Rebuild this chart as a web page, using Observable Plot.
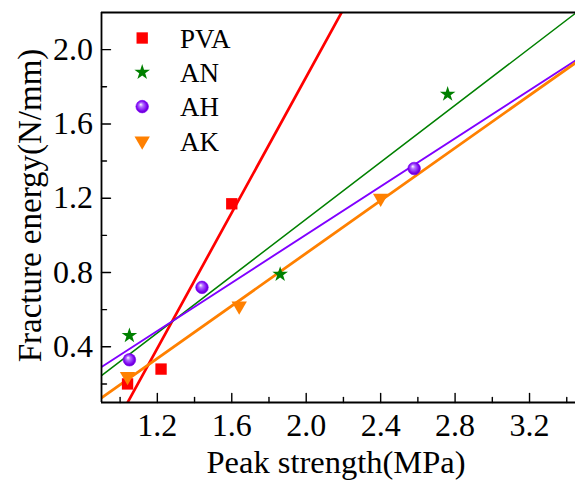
<!DOCTYPE html>
<html>
<head>
<meta charset="utf-8">
<script src="https://cdn.jsdelivr.net/npm/d3@7"></script>
<script src="https://cdn.jsdelivr.net/npm/@observablehq/plot@0.6"></script>
<style>
  html, body { margin: 0; padding: 0; background: #fff; }
</style>
</head>
<body>
<div id="chart"></div>
<script>
// Measured specimens: peak strength (MPa) vs fracture energy (N/mm)
const seriesNames = ["PVA", "AN", "AH", "AK"];

const pvaStrength = [1.04, 1.22, 1.60];
const pvaEnergy   = [0.20, 0.28, 1.17];

const anStrength  = [1.05, 1.86, 2.76];
const anEnergy    = [0.46, 0.79, 1.76];

const ahStrength  = [1.05, 1.44, 2.58];
const ahEnergy    = [0.33, 0.72, 1.36];

const akStrength  = [1.04, 1.64, 2.40];
const akEnergy    = [0.24, 0.62, 1.20];

// Axis ranges and ticks
const xDomain = [0.9, 3.447];
const yDomain = [0.1, 2.2];
const xMajorTicks = [1.2, 1.6, 2.0, 2.4, 2.8, 3.2];
const xMinorTicks = [1.0, 1.4, 1.8, 2.2, 2.6, 3.0, 3.4];
const yMajorTicks = [0.4, 0.8, 1.2, 1.6, 2.0];
const yMinorTicks = [0.2, 0.6, 1.0, 1.4, 1.8];

const xTitle = "Peak strength(MPa)";
const yTitle = "Fracture energy(N/mm)";

// Styling for each series
const styles = {
  PVA: { color: "#ff0000", symbol: "square", r: 6.4, rotate: 0, lineWidth: 2.7 },
  AN:  { color: "#008000", symbol: "star",   r: 4.9, rotate: 0, lineWidth: 1.5 },
  AH:  { color: "#8000ff", symbol: "circle", r: 6.3, rotate: 0, lineWidth: 1.9, fill: "url(#ahBall)" },
  AK:  { color: "#ff8000", symbol: "triangle", r: 5.7, rotate: 180, lineWidth: 2.8 }
};

const series = [
  { name: "PVA", xs: pvaStrength, ys: pvaEnergy },
  { name: "AN",  xs: anStrength,  ys: anEnergy },
  { name: "AH",  xs: ahStrength,  ys: ahEnergy },
  { name: "AK",  xs: akStrength,  ys: akEnergy }
];

// Ordinary least-squares line through a series
function leastSquares(xs, ys) {
  const mx = d3.mean(xs), my = d3.mean(ys);
  const sxy = d3.sum(xs, (x, i) => (x - mx) * (ys[i] - my));
  const sxx = d3.sum(xs, x => (x - mx) ** 2);
  const slope = sxy / sxx;
  return x => my + slope * (x - mx);
}

const fitMarks = series.map(s => {
  const f = leastSquares(s.xs, s.ys);
  const pts = xDomain.map(x => ({ x, y: f(x) }));
  const st = styles[s.name];
  return Plot.line(pts, { x: "x", y: "y", stroke: st.color, strokeWidth: st.lineWidth, clip: true });
});

const pointMarks = series.map(s => {
  const st = styles[s.name];
  const pts = s.xs.map((x, i) => ({ x, y: s.ys[i] }));
  return Plot.dot(pts, {
    x: "x", y: "y", symbol: st.symbol, r: st.r, rotate: st.rotate,
    fill: st.fill || st.color, stroke: st.fill ? st.color : "none", strokeWidth: st.fill ? 0.6 : 0
  });
});

// Legend in the upper-left corner of the frame
const legendMarks = seriesNames.flatMap((name, i) => {
  const st = styles[name];
  const rowDy = 25.5 + i * 34.3;
  return [
    Plot.dot([name], {
      frameAnchor: "top-left", dx: 40.7, dy: rowDy,
      symbol: st.symbol, r: st.r, rotate: st.rotate,
      fill: st.fill || st.color, stroke: st.fill ? st.color : "none", strokeWidth: st.fill ? 0.6 : 0
    }),
    Plot.text([name], {
      frameAnchor: "top-left", dx: 78.5, dy: rowDy + 9.6,
      text: d => d, textAnchor: "start", lineAnchor: "bottom",
      fontSize: 27, fill: "black"
    })
  ];
});

// Inward tick marks
const tickUp = { draw(context, l) { context.moveTo(0, 0); context.lineTo(0, -l); } };
const tickMarks = [
  Plot.vector(xMajorTicks, { x: d => d, frameAnchor: "bottom", length: 9, rotate: 0, anchor: "start", shape: tickUp, stroke: "black", strokeWidth: 1.4 }),
  Plot.vector(xMinorTicks, { x: d => d, frameAnchor: "bottom", length: 5, rotate: 0, anchor: "start", shape: tickUp, stroke: "black", strokeWidth: 1.4 }),
  Plot.vector(yMajorTicks, { y: d => d, frameAnchor: "left", length: 9, rotate: 90, anchor: "start", shape: tickUp, stroke: "black", strokeWidth: 1.4 }),
  Plot.vector(yMinorTicks, { y: d => d, frameAnchor: "left", length: 5, rotate: 90, anchor: "start", shape: tickUp, stroke: "black", strokeWidth: 1.4 })
];

const chart = Plot.plot({
  width: 575,
  height: 481,
  marginTop: 12,
  marginBottom: 79,
  marginLeft: 101,
  marginRight: 0,
  style: { fontFamily: "'Liberation Serif', 'Times New Roman', serif", background: "#fff", color: "black" },
  x: { domain: xDomain, label: null },
  y: { domain: yDomain, label: null },
  marks: [
    ...fitMarks,
    ...pointMarks,
    ...legendMarks,
    Plot.ruleX([xDomain[0]], { stroke: "black", strokeWidth: 1.8 }),
    Plot.ruleY([yDomain[0], yDomain[1]], { stroke: "black", strokeWidth: 1.8 }),
    ...tickMarks,
    Plot.axisX(xMajorTicks, { tickSize: 0, tickPadding: 11, tickFormat: d => d.toFixed(1), fontSize: 32, label: null }),
    Plot.axisY(yMajorTicks, { tickSize: 0, tickPadding: 8.5, tickFormat: d => d.toFixed(1), fontSize: 32, label: null }),
    Plot.text([xTitle], { frameAnchor: "bottom", dy: 70.7, dx: -2.5, text: d => d, textAnchor: "middle", lineAnchor: "bottom", fontSize: 32.5, fill: "black" }),
    Plot.text([yTitle], { frameAnchor: "left", dx: -61, dy: -2, rotate: -90, text: d => d, textAnchor: "middle", lineAnchor: "bottom", fontSize: 33, fill: "black" })
  ]
});

// Shaded-sphere fill for the AH markers
const svgNS = "http://www.w3.org/2000/svg";
const defs = document.createElementNS(svgNS, "defs");
defs.innerHTML =
  '<radialGradient id="ahBall" cx="0.5" cy="0.5" r="0.55" fx="0.38" fy="0.32">' +
  '<stop offset="0" stop-color="#ffffff"/>' +
  '<stop offset="0.3" stop-color="#b070ff"/>' +
  '<stop offset="0.75" stop-color="#7a00ee"/>' +
  '<stop offset="1" stop-color="#5a00b0"/>' +
  '</radialGradient>';
chart.insertBefore(defs, chart.firstChild);

document.getElementById("chart").appendChild(chart);
</script>
</body>
</html>
